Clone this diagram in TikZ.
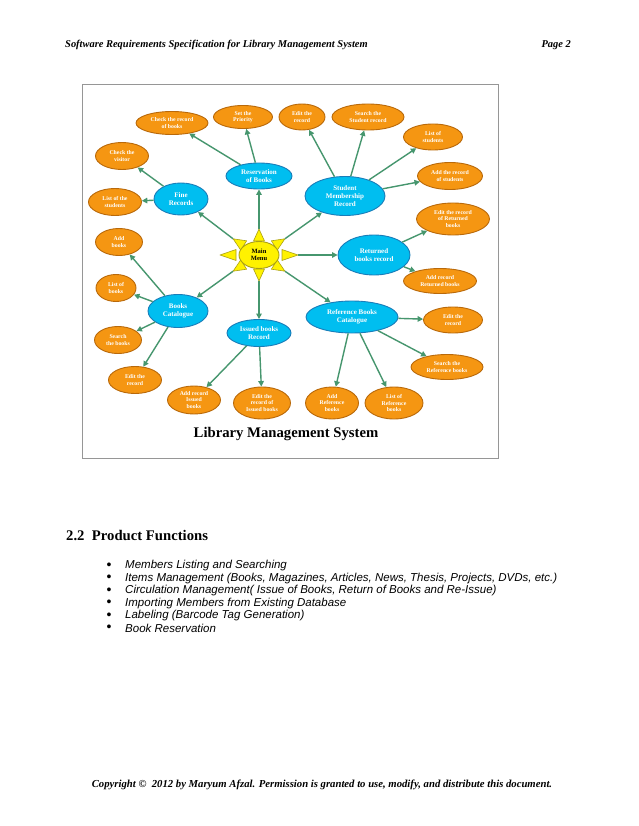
\documentclass[tikz,border=0pt]{standalone}
\usepackage{fontspec}
\setmainfont{Liberation Serif}
\newfontfamily\arialfont{Liberation Sans}
\usetikzlibrary{shapes.geometric,arrows.meta}
\definecolor{orfill}{RGB}{245,150,18}
\definecolor{ordraw}{RGB}{185,105,10}
\definecolor{blfill}{RGB}{0,190,240}
\definecolor{bldraw}{RGB}{25,125,185}
\definecolor{arrgreen}{RGB}{70,150,110}
\definecolor{sunfill}{RGB}{255,242,0}
\definecolor{sundraw}{RGB}{170,160,20}
\definecolor{framegray}{RGB}{150,150,150}
\begin{document}
\begin{tikzpicture}[x=1pt,y=-1pt,
  sz/.style 2 args={minimum width=#1pt, minimum height=#2pt},
  orn/.style={ellipse, draw=ordraw, fill=orfill, line width=0.9pt, inner sep=0pt, text=white,
    font=\bfseries\fontsize{5.8}{6.5}\selectfont, align=center},
  bln/.style={ellipse, draw=bldraw, fill=blfill, line width=0.9pt, inner sep=0pt, text=white,
    font=\bfseries\fontsize{7}{8}\selectfont, align=center},
  mainn/.style={ellipse, draw=sundraw, fill=sunfill, line width=0.9pt, inner sep=0pt, text=black,
    font=\bfseries\fontsize{6.5}{7.5}\selectfont, align=center},
  ray/.style={fill=sunfill, draw=sundraw, line width=0.6pt, line join=round},
  arr/.style={draw=arrgreen, line width=1.4pt, -{Triangle[length=5.5pt,width=5.5pt]}},
  hdr/.style={font=\bfseries\itshape\fontsize{10.45}{12}\selectfont, inner sep=0pt},
  ftr/.style={font=\bfseries\itshape\fontsize{10.7}{12}\selectfont, inner sep=0pt},
  bul/.style={font=\arialfont\itshape\fontsize{11.5}{13}\selectfont, inner sep=0pt, anchor=west}
]
\useasboundingbox[fill=white] (0,0) rectangle (638,826);

% header
\node[hdr, anchor=west] (head) at (65,45) {Software Requirements Specification for Library Management System};
\node[hdr, anchor=east] (page) at (571,45) {Page 2};

% frame
\draw[framegray, line width=0.9pt] (82,84) rectangle (498,458);

% ray tip coordinates
\coordinate (tipT) at (259,229);
\coordinate (tipB) at (259,281);
\coordinate (tipL) at (220,255);
\coordinate (tipR) at (298,255);
\coordinate (tipUL) at (233.1,238.8);
\coordinate (tipUR) at (284.9,238.8);
\coordinate (tipLL) at (233.1,271.2);
\coordinate (tipLR) at (284.9,271.2);

% blue nodes
\node[bln, sz={54}{32}] (fine) at (181,199) {Fine\\Records};
\node[bln, sz={66}{26}] (resv) at (259,176) {Reservation\\of Books};
\node[bln, sz={80}{39}] (stud) at (345,196) {Student\\Membership\\Record};
\node[bln, sz={72}{40}] (ret) at (374,255) {Returned\\books record};
\node[bln, sz={92}{32}] (refc) at (352,317) {Reference Books\\Catalogue};
\node[bln, sz={64}{27}] (iss) at (259,333) {Issued books\\Record};
\node[bln, sz={60}{33}] (bcat) at (178,311) {Books\\Catalogue};

% orange nodes
\node[orn, sz={72}{23}] (chkrec) at (172,123) {Check the record\\of books};
\node[orn, sz={59}{23}] (prio) at (243,117) {Set the\\Priority};
\node[orn, sz={53}{27}] (visit) at (122,156) {Check the\\visitor};
\node[orn, sz={53}{27}] (lststu) at (115,202) {List of the\\students};
\node[orn, sz={46}{26}] (edit1) at (302,117) {Edit the\\record};
\node[orn, sz={72}{26}] (srchstu) at (368,117) {Search the\\Student record};
\node[orn, sz={59}{26}] (lstof) at (433,137) {List of\\students};
\node[orn, sz={65}{27}] (addstu) at (450,176) {Add the record\\of students};
\node[orn, sz={73}{32}] (editret) at (453,219) {Edit the record\\of Returned\\books};
\node[orn, sz={73}{25}] (addret) at (440,281) {Add record\\Returned books};
\node[orn, sz={59}{26}] (edit2) at (453,320) {Edit the\\record};
\node[orn, sz={72}{25}] (srchref) at (447,367) {Search the\\Reference books};
\node[orn, sz={58}{32}] (lstref) at (394,403) {List of\\Reference\\books};
\node[orn, sz={53}{32}] (addref) at (332,403) {Add\\Reference\\books};
\node[orn, sz={57}{32}] (editiss) at (262,403) {Edit the\\record of\\Issued books};
\node[orn, sz={53}{28}] (addiss) at (194,400) {Add record\\Issued\\books};
\node[orn, sz={53}{27}] (edit3) at (135,380) {Edit the\\record};
\node[orn, sz={47}{27}] (srchbk) at (118,340) {Search\\the books};
\node[orn, sz={40}{27}] (lstbk) at (116,288) {List of\\books};
\node[orn, sz={47}{27}] (addbk) at (119,242) {Add\\books};

% connectors from main menu
\draw[arr] (tipUL) -- (fine);
\draw[arr] (tipT) -- (resv);
\draw[arr] (tipUR) -- (stud);
\draw[arr] (tipR) -- (ret);
\draw[arr] (tipLR) -- (refc);
\draw[arr] (tipB) -- (iss);
\draw[arr] (tipLL) -- (bcat);

% sub connectors
\draw[arr] (fine) -- (visit);
\draw[arr] (fine) -- (lststu);
\draw[arr] (resv) -- (chkrec);
\draw[arr] (resv) -- (prio);
\draw[arr] (stud) -- (edit1);
\draw[arr] (stud) -- (srchstu);
\draw[arr] (stud) -- (lstof);
\draw[arr] (stud) -- (addstu);
\draw[arr] (ret) -- (editret);
\draw[arr] (ret) -- (addret);
\draw[arr] (refc) -- (edit2);
\draw[arr] (refc) -- (srchref);
\draw[arr] (refc) -- (lstref);
\draw[arr] (refc) -- (addref);
\draw[arr] (iss) -- (editiss);
\draw[arr] (iss) -- (addiss);
\draw[arr] (bcat) -- (edit3);
\draw[arr] (bcat) -- (srchbk);
\draw[arr] (bcat) -- (lstbk);
\draw[arr] (bcat) -- (addbk);

% sun rays
\draw[ray] (298,255) -- (282,249.5) -- (282,260.5) -- cycle;
\draw[ray] (220,255) -- (236,249.5) -- (236,260.5) -- cycle;
\draw[ray] (259,229) -- (253.5,241) -- (264.5,241) -- cycle;
\draw[ray] (259,281) -- (253.5,269) -- (264.5,269) -- cycle;
\draw[ray] (233.1,238.8) -- (246.6,240.8) -- (240.8,250.2) -- cycle;
\draw[ray] (284.9,238.8) -- (277.2,250.2) -- (271.4,240.8) -- cycle;
\draw[ray] (233.1,271.2) -- (246.6,269.2) -- (240.8,259.8) -- cycle;
\draw[ray] (284.9,271.2) -- (271.4,269.2) -- (277.2,259.8) -- cycle;
\node[mainn, sz={40}{27}] (main) at (259,255) {Main\\Menu};

% title
\node[font=\bfseries\fontsize{14.7}{16}\selectfont, inner sep=0pt] (title) at (286,434) {Library Management System};

% section
\node[font=\bfseries\fontsize{14.7}{16}\selectfont, inner sep=0pt, anchor=west] (sec) at (66,535) {2.2\hspace{0.5em}Product Functions};

\foreach \y/\t [count=\i] in {566/Members Listing and Searching,
  578.5/{Items Management (Books, Magazines, Articles, News, Thesis, Projects, DVDs, etc.)},
  591/{Circulation Management( Issue of Books, Return of Books and Re-Issue)},
  603.5/Importing Members from Existing Database,
  616/Labeling (Barcode Tag Generation),
  628.5/Book Reservation}{
  \node[bul] (b\i) at (125,\y) {\t};
  \node[font=\arialfont\fontsize{14}{14}\selectfont, inner sep=0pt] (d\i) at (109,\y) {•};
}

% footer
\node[ftr] (foot) at (322,785) {Copyright ©\ \ 2012 by Maryum Afzal. Permission is granted to use, modify, and distribute this document.};
\end{tikzpicture}
\end{document}
